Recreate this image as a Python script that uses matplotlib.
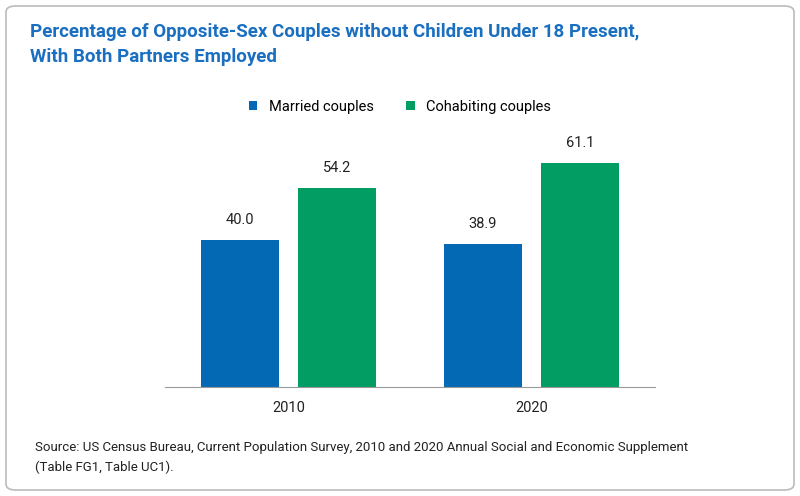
import matplotlib
matplotlib.use("Agg")
import matplotlib.pyplot as plt
from matplotlib.patches import FancyBboxPatch

years = ["2010", "2020"]
married = [40.0, 38.9]
cohabiting = [54.2, 61.1]
series_names = ["Married couples", "Cohabiting couples"]

plt.rcParams['font.family'] = ['Roboto', 'DejaVu Sans']
fig = plt.figure(figsize=(8, 4.96), dpi=100)
fig.patches.append(FancyBboxPatch((6/800, 6/496), 788/800, 484/496,
    boxstyle="round,pad=0,rounding_size=0.012", transform=fig.transFigure,
    fill=False, edgecolor="#bbbbbb", linewidth=1.2))

fig.text(30/800, 1-32/496, "Percentage of Opposite-Sex Couples without Children Under 18 Present,",
         color="#1a6fc0", fontsize=13.5, fontweight="bold", va="center")
fig.text(30/800, 1-57/496, "With Both Partners Employed",
         color="#1a6fc0", fontsize=13.5, fontweight="bold", va="center")

ax = fig.add_axes([165/800, 109/496, 490/800, 257/496])
blue, green = "#0469b5", "#019d62"
x = [0, 1]
w = 0.321
off = 0.2006
b1 = ax.bar([i - off for i in x], married, w, color=blue, label=series_names[0])
b2 = ax.bar([i + off for i in x], cohabiting, w, color=green, label=series_names[1])
for bars, vals in ((b1, married), (b2, cohabiting)):
    for r, v in zip(bars, vals):
        ax.text(r.get_x() + r.get_width()/2, v + 3.5, f"{v:.1f}", ha="center", va="bottom", fontsize=10.5, color="#222222")
ax.set_xlim(-0.508, 1.508)
ax.set_ylim(0, 70)
ax.set_xticks(x)
ax.set_xticklabels(years, fontsize=10.5, color="#222222")
ax.tick_params(axis="x", length=0, pad=10)
ax.set_yticks([])
for s in ["top", "right", "left"]:
    ax.spines[s].set_visible(False)
ax.spines["bottom"].set_color("#999999")

fig.legend(handles=[b1, b2], loc="center", bbox_to_anchor=(400/800, 1-107/496), ncol=2,
           frameon=False, fontsize=10.5, handlelength=0.6, handleheight=0.6,
           columnspacing=2.2, handletextpad=0.8)

fig.text(35/800, 1-447/496, "Source: US Census Bureau, Current Population Survey, 2010 and 2020 Annual Social and Economic Supplement",
         fontsize=9.5, color="#222222", va="center")
fig.text(35/800, 1-467/496, "(Table FG1, Table UC1).", fontsize=9.5, color="#222222", va="center")

fig.savefig("out.png", dpi=100)
